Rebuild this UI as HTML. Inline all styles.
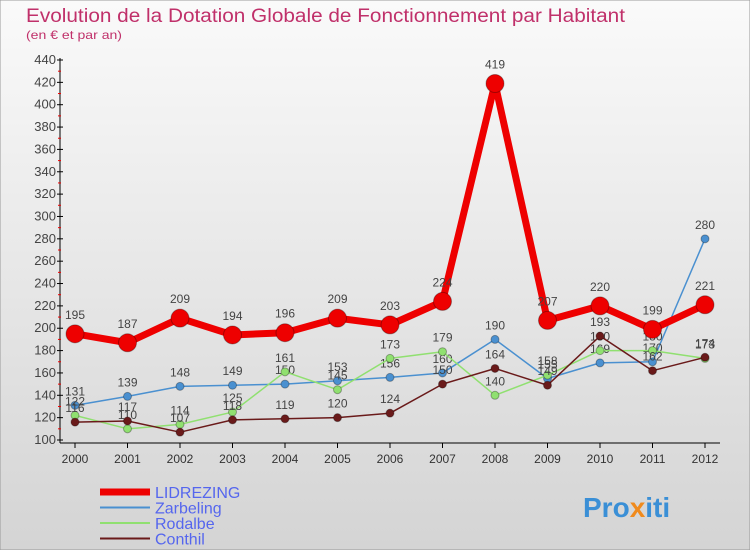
<!DOCTYPE html>
<html><head><meta charset="utf-8"><style>
body{margin:0;width:750px;height:550px;overflow:hidden;font-family:"Liberation Sans",sans-serif}
</style></head><body>
<svg id="c" width="750" height="550" xmlns="http://www.w3.org/2000/svg">
<defs><linearGradient id="bg" x1="0" y1="0" x2="0" y2="1"><stop offset="0" stop-color="#fafafa"/><stop offset="1" stop-color="#d4d4d4"/></linearGradient></defs>
<rect x="0" y="0" width="750" height="550" fill="url(#bg)" stroke="#999"/>
<text x="26" y="22" font-size="19" fill="#c0306a" textLength="599" lengthAdjust="spacingAndGlyphs">Evolution de la Dotation Globale de Fonctionnement par Habitant</text>
<text x="26" y="39" font-size="12" fill="#c0306a" textLength="96" lengthAdjust="spacingAndGlyphs">(en € et par an)</text>
<g id="axes"></g><g id="marks"></g><g id="legend"></g>
<text x="583" y="517" font-size="28" font-weight="bold" fill="#3a8fd6">Pro<tspan fill="#f08a1c">x</tspan><tspan fill="#3a8fd6">iti</tspan></text>
</svg>
<script>
const years=["2000","2001","2002","2003","2004","2005","2006","2007","2008","2009","2010","2011","2012"];
const yTicks=[100,120,140,160,180,200,220,240,260,280,300,320,340,360,380,400,420,440];
const lidrezing=[195,187,209,194,196,209,203,224,419,207,220,199,221];
const zarbeling=[131,139,148,149,150,153,156,160,190,155,169,170,280];
const rodalbe=[122,110,114,125,161,145,173,179,140,158,180,180,173];
const conthil=[116,117,107,118,119,120,124,150,164,149,193,162,174];
const NS="http://www.w3.org/2000/svg";
const X=i=>75+i*52.5, Y=v=>440-(v-100)*380/340;
function mk(t,a,p){const e=document.createElementNS(NS,t);for(const k in a)e.setAttribute(k,a[k]);p.appendChild(e);return e;}
const ax=document.getElementById('axes');
mk('line',{x1:60,y1:58,x2:60,y2:443,stroke:'#000'},ax);
mk('line',{x1:60,y1:443,x2:720,y2:443,stroke:'#000'},ax);
yTicks.forEach(v=>{mk('line',{x1:57,x2:63,y1:Y(v),y2:Y(v),stroke:'#000'},ax);
const t=mk('text',{x:56,y:Y(v)+4,'font-size':13,fill:'#444','text-anchor':'end'},ax);t.textContent=v;

if(v<440)mk('line',{x1:58,x2:61,y1:Y(v+10),y2:Y(v+10),stroke:'#e00'},ax);});
years.forEach((y,i)=>{mk('line',{x1:X(i),x2:X(i),y1:443,y2:448,stroke:'#000'},ax);
const t=mk('text',{x:X(i),y:463,'font-size':12,fill:'#333','text-anchor':'middle'},ax);t.textContent=y;
});
const series=[["zarbeling",zarbeling,"#4a90d0",1.5,4],["rodalbe",rodalbe,"#90e070",1.5,4],["conthil",conthil,"#6a1a1a",1.5,4],["lidrezing",lidrezing,"#ee0000",7,9]];
const mg=document.getElementById('marks');
series.forEach(([n,d,c,w,r])=>{const g=mk('g',{},mg);
mk('polyline',{points:d.map((v,i)=>X(i)+','+Y(v)).join(' '),fill:'none',stroke:c,'stroke-width':w,'stroke-linejoin':'round'},g);
d.forEach((v,i)=>{const p=mk('circle',{cx:X(i),cy:Y(v),r:r,fill:c,stroke:'rgba(0,0,0,0.3)'},g);

const t=mk('text',{x:X(i),y:Y(v)-r-6,'font-size':12,fill:'#444','text-anchor':'middle'},g);t.textContent=v;});});
const lg=document.getElementById('legend');
[["LIDREZING","#ee0000",7],["Zarbeling","#4a90d0",2],["Rodalbe","#90e070",2],["Conthil","#6a1a1a",2]].forEach(([n,c,w],i)=>{
const g=mk('g',{},lg);
mk('line',{x1:100,x2:150,y1:492+i*15.5,y2:492+i*15.5,stroke:c,'stroke-width':w},g);
const t=mk('text',{x:155,y:498+i*15.5,'font-size':16,fill:'#5566ee'},g);t.textContent=n;});
</script>
</body></html>
